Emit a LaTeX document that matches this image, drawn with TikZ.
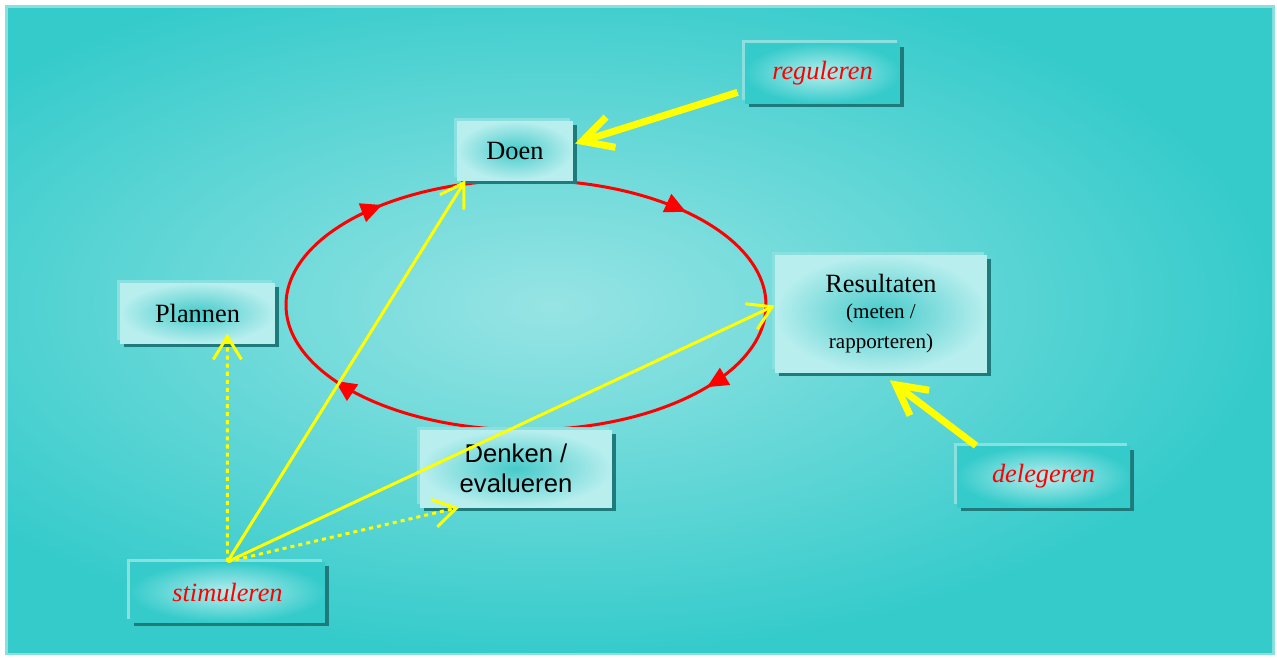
\documentclass[tikz,border=0pt]{standalone}
\usepackage{fontspec}
\setmainfont{Liberation Serif}
\setsansfont{Liberation Sans}
\usepackage{tikz}
\usetikzlibrary{
  arrows.meta,
  shadows,
  decorations.markings
}
\definecolor{cyBack}{HTML}{36CBCB}
\definecolor{cyGlow}{HTML}{97E4E4}
\definecolor{cyRim}{HTML}{8ADFDF}
\definecolor{cyPale}{HTML}{B8EEEE}
\definecolor{cyCore}{HTML}{46CACA}
\definecolor{cyShade}{HTML}{1F7B7B}
\definecolor{cyRed}{HTML}{FF0000}
\definecolor{cyYellow}{HTML}{FFFF00}
\newcommand\cysmall{\fontsize{12}{14.6}\selectfont}
\tikzset{
  cybox/.style={
    rectangle, inner sep=0pt, align=center, text=black,
    general shadow={fill=cyShade, shadow xshift=2.3pt, shadow yshift=-2.3pt},
    general shadow={fill=cyRim, shadow xshift=-1.6pt, shadow yshift=1.6pt},
    inner color=cyCore, outer color=cyPale,
    font=\fontsize{15}{17}\selectfont
  },
  cytag/.style={cybox, inner color=cyPale, outer color=cyBack,
    text=cyRed, font=\fontsize{15}{17}\selectfont\itshape},
  cytip/.tip={Triangle[length=12pt, width=11pt]},
  cycle/.style={cyRed, line width=1.7pt, postaction={decorate},
    decoration={markings,
      mark=at position 0.09 with {\arrow{cytip}},
      mark=at position 0.42 with {\arrow{cytip}},
      mark=at position 0.625 with {\arrow{cytip}},
      mark=at position 0.89 with {\arrow{cytip}}}},
  pull/.style={-{Straight Barb[length=13pt, width=16pt]}, cyYellow, line width=1.7pt},
  pulldot/.style={pull, dash pattern=on 2.3pt off 2.3pt},
  push/.style={-{Straight Barb[length=17pt, width=18pt]}, cyYellow, line width=4pt}
}
\begin{document}
\begin{tikzpicture}[x=0.02cm, y=-0.02cm]
  \useasboundingbox (0,0) rectangle (1277,657);
  \fill[white] (0,0) rectangle (1277,657);
  \fill[cyRim] (5,5) rectangle (1275,655);
  \begin{scope}
    \clip (8,8) rectangle (1272,652);
    \shade[inner color=cyGlow, outer color=cyBack] (-170,-40) rectangle (1272,652);
  \end{scope}

  \draw[cycle] (526,305) ellipse [x radius=240, y radius=125];

  \node[cybox, minimum width=2.32cm, minimum height=1.18cm] (doen) at (515,150.5) {Doen};
  \node[cybox, minimum width=3.1cm, minimum height=1.2cm] (plan) at (197.5,313) {Plannen};
  \node[cybox, minimum width=3.84cm, minimum height=1.54cm, font=\sffamily\fontsize{14.6}{17}\selectfont] (denk) at (516,468.5) {Denken /\\evalueren};
  \node[cybox, minimum width=4.24cm, minimum height=2.34cm] (res) at (881,313.5)
    {Resultaten\\[-2pt]\cysmall (meten /\\\cysmall rapporteren)};
  \node[cytag, minimum width=3.1cm, minimum height=1.2cm] (reg) at (822.5,73) {reguleren};
  \node[cytag, minimum width=3.46cm, minimum height=1.22cm] (deleg) at (1043.5,476.5) {delegeren};
  \node[cytag, minimum width=3.9cm, minimum height=1.2cm] (stim) at (227.5,592) {stimuleren};

  \draw[pull] (stim.north) -- ([xshift=5pt]doen.south west);
  \draw[pull] (stim.north) -- ([yshift=4.5pt]res.west);
  \draw[pulldot] (stim.north) -- ([xshift=17pt, yshift=5.5pt]plan.south);
  \draw[pulldot] (stim.north) -- ([xshift=22.5pt]denk.south west);
  \draw[push] ([xshift=-4pt, yshift=-11pt]reg.west) -- ([xshift=1pt, yshift=4pt]doen.east);
  \draw[push] ([xshift=11pt]deleg.north west) -- ([xshift=5pt, yshift=-4.5pt]res.south);
\end{tikzpicture}
\end{document}
